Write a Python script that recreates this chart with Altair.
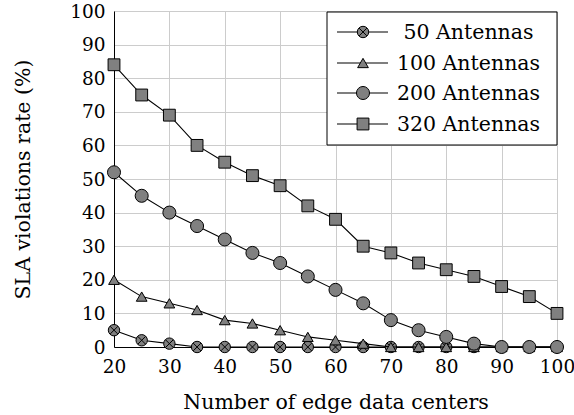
import altair as alt
import pandas as pd

x_vals = [20, 25, 30, 35, 40, 45, 50, 55, 60, 65, 70, 75, 80, 85, 90, 95, 100]
s50 = [5, 2, 1, 0, 0, 0, 0, 0, 0, 0, 0, 0, 0, 0, 0, 0, 0]
s100 = [20, 15, 13, 11, 8, 7, 5, 3, 2, 1, 0, 0, 0, 0, 0, 0, 0]
s200 = [52, 45, 40, 36, 32, 28, 25, 21, 17, 13, 8, 5, 3, 1, 0, 0, 0]
s320 = [84, 75, 69, 60, 55, 51, 48, 42, 38, 30, 28, 25, 23, 21, 18, 15, 10]
names = ["50 Antennas", "100 Antennas", "200 Antennas", "320 Antennas"]
series = [s50, s100, s200, s320]
x_ticks = [20, 30, 40, 50, 60, 70, 80, 90, 100]
y_ticks = [0, 10, 20, 30, 40, 50, 60, 70, 80, 90, 100]

FONT = "DejaVu Serif"
FILL = "#808080"
XPATH = "M-0.68,-0.68L0.68,0.68M-0.68,0.68L0.68,-0.68"
shapes = ["circle", "triangle-up", "circle", "square"]
sizes = [130, 115, 170, 140]

W, H = 443, 336

common = dict(tickSize=0, labelFontSize=18.5, titleFontSize=20.5, labelFont=FONT,
              titleFont=FONT, titleFontWeight="normal", labelColor="black",
              titleColor="black", gridColor="#cccccc", domainColor="black",
              labelFlush=False)
xs = alt.X("x:Q", scale=alt.Scale(domain=[20, 100], nice=False),
           axis=alt.Axis(values=x_ticks, title="Number of edge data centers",
                         labelPadding=10, titlePadding=17, **common))
ys = alt.Y("y:Q", scale=alt.Scale(domain=[0, 100], nice=False),
           axis=alt.Axis(values=y_ticks, title="SLA violations rate (%)",
                         labelPadding=9, titlePadding=36, **common))

layers = []
for i, (name, vals) in enumerate(zip(names, series)):
    df = pd.DataFrame({"x": x_vals, "y": vals, "series": name})
    base = alt.Chart(df)
    layers.append(base.mark_line(color="black", strokeWidth=1.1).encode(x=xs, y=ys))
    layers.append(base.mark_point(shape=shapes[i], size=sizes[i], filled=True,
                                  fill=FILL, stroke="black", strokeWidth=1,
                                  opacity=1).encode(x=xs, y=ys))
    if i == 0:
        layers.append(base.mark_point(shape=XPATH, size=sizes[i], filled=False,
                                      stroke="black", strokeWidth=1,
                                      opacity=1).encode(x=xs, y=ys))

# legend
one = pd.DataFrame({"k": [0]})
layers.append(alt.Chart(one).mark_rect(fill="white", stroke="black", strokeWidth=1).encode(
    x=alt.value(213), x2=alt.value(W), y=alt.value(1), y2=alt.value(134)))
row_y = [21, 52, 82, 113]
for i, name in enumerate(names):
    d = pd.DataFrame({"label": [name]})
    c = alt.Chart(d)
    layers.append(c.mark_rule(color="black", strokeWidth=1.1).encode(
        x=alt.value(223), x2=alt.value(274), y=alt.value(row_y[i])))
    layers.append(c.mark_point(shape=shapes[i], size=sizes[i], filled=True, fill=FILL,
                               stroke="black", strokeWidth=1, opacity=1).encode(
        x=alt.value(249), y=alt.value(row_y[i])))
    if i == 0:
        layers.append(c.mark_point(shape=XPATH, size=sizes[i], filled=False,
                                   stroke="black", strokeWidth=1, opacity=1).encode(
            x=alt.value(249), y=alt.value(row_y[i])))
    layers.append(c.mark_text(font=FONT, fontSize=20.5, align="center", baseline="middle",
                              color="black").encode(
        x=alt.value(354.5), y=alt.value(row_y[i] + 1), text="label:N"))

chart = alt.layer(*layers).properties(
    width=W, height=H,
    padding={"left": 114, "top": 11, "right": 17, "bottom": 68},
    autosize=alt.AutoSizeParams(type="none"),
).configure_view(stroke="black", strokeWidth=1).configure(background="white")

chart.save("out.html", embed_options={"renderer": "svg", "actions": False})
